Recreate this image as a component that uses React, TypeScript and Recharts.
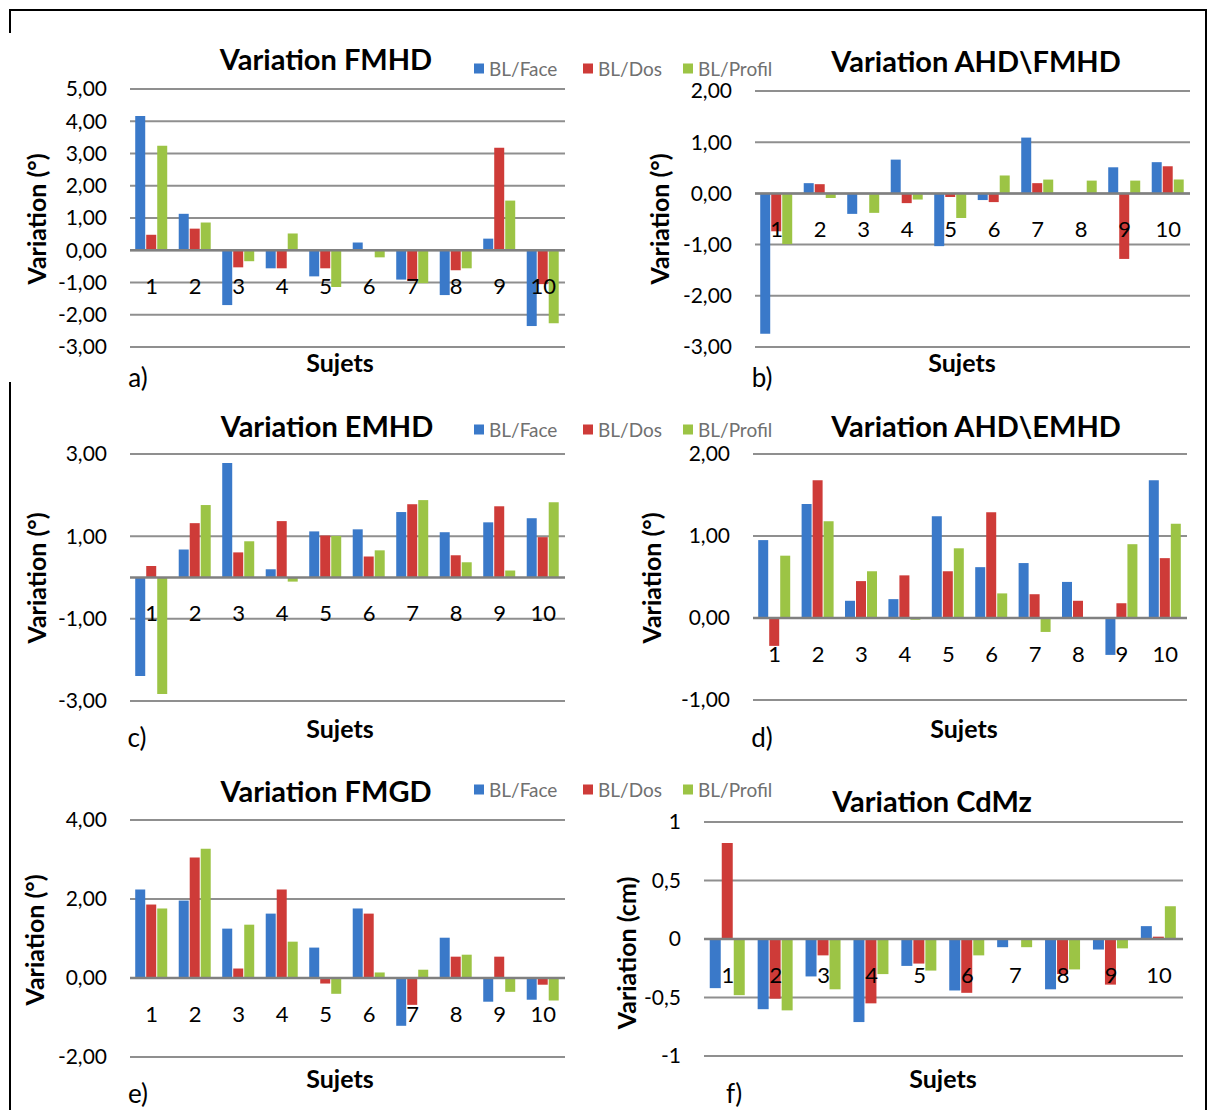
import React from 'react';
import {
  ComposedChart,
  Bar,
  Line,
  XAxis,
  YAxis,
  CartesianGrid,
  ReferenceLine,
  LabelList
} from 'recharts';

const subjects = ['1', '2', '3', '4', '5', '6', '7', '8', '9', '10'];
const seriesNames = ['BL/Face', 'BL/Dos', 'BL/Profil'];
const seriesColors = ['#3A79C9', '#CE3B38', '#9CC445'];

// a) FMHD
const fmhdFace = [4.16, 1.13, -1.7, -0.56, -0.81, 0.24, -0.91, -1.39, 0.36, -2.35];
const fmhdDos = [0.48, 0.67, -0.53, -0.56, -0.56, 0, -0.95, -0.62, 3.18, -1.05];
const fmhdProfil = [3.24, 0.86, -0.34, 0.52, -1.14, -0.22, -1.02, -0.56, 1.54, -2.26];

// b) AHD\FMHD
const ahdFmhdFace = [-2.74, 0.2, -0.4, 0.66, -1.03, -0.13, 1.09, 0, 0.51, 0.61];
const ahdFmhdDos = [-0.74, 0.18, 0, -0.19, -0.07, -0.17, 0.2, 0, -1.28, 0.53];
const ahdFmhdProfil = [-0.99, -0.09, -0.38, -0.12, -0.48, 0.35, 0.27, 0.25, 0.25, 0.27];

// c) EMHD
const emhdFace = [-2.39, 0.68, 2.78, 0.2, 1.12, 1.17, 1.59, 1.1, 1.34, 1.44];
const emhdDos = [0.28, 1.32, 0.61, 1.37, 1.02, 0.51, 1.78, 0.54, 1.73, 0.98];
const emhdProfil = [-2.83, 1.76, 0.88, -0.1, 1.01, 0.66, 1.88, 0.37, 0.17, 1.83];

// d) AHD\EMHD
const ahdEmhdFace = [0.95, 1.39, 0.21, 0.23, 1.24, 0.62, 0.67, 0.44, -0.45, 1.68];
const ahdEmhdDos = [-0.34, 1.68, 0.45, 0.52, 0.57, 1.29, 0.29, 0.21, 0.18, 0.73];
const ahdEmhdProfil = [0.76, 1.18, 0.57, -0.02, 0.85, 0.3, -0.17, 0, 0.9, 1.15];

// e) FMGD
const fmgdFace = [2.24, 1.96, 1.25, 1.63, 0.77, 1.76, -1.21, 1.02, -0.6, -0.55];
const fmgdDos = [1.86, 3.05, 0.24, 2.24, -0.14, 1.63, -0.68, 0.54, 0.54, -0.17];
const fmgdProfil = [1.76, 3.27, 1.35, 0.92, -0.4, 0.14, 0.21, 0.59, -0.35, -0.57];

// f) CdMz
const cdmzFace = [-0.42, -0.6, -0.32, -0.71, -0.23, -0.44, -0.07, -0.43, -0.09, 0.11];
const cdmzDos = [0.82, -0.51, -0.14, -0.55, -0.21, -0.46, 0, -0.3, -0.39, 0.02];
const cdmzProfil = [-0.48, -0.61, -0.43, -0.3, -0.27, -0.14, -0.07, -0.26, -0.08, 0.28];

const toRows = (face: number[], dos: number[], profil: number[]) =>
  subjects.map((name, i) => ({ name, face: face[i], dos: dos[i], profil: profil[i], zero: 0 }));

const fmt2 = (v: number) => v.toFixed(2).replace('.', ',');
const fmtShort = (v: number) => String(v).replace('.', ',');

const FONT = 'Lato, "Open Sans", sans-serif';

interface PanelDef {
  title: string;
  letter: string;
  yLabel: string;
  rows: ReturnType<typeof toRows>;
  domain: [number, number];
  ticks: number[];
  fmt: (v: number) => string;
  x0: number;
  x1: number;
  y0: number;
  y1: number;
  titlePos: [number, number];
  yLabelPos: [number, number];
  sujetsPos: [number, number];
  letterPos: [number, number];
}

const panels: PanelDef[] = [
  {
    title: 'Variation FMHD', letter: 'a)', yLabel: 'Variation (°)',
    rows: toRows(fmhdFace, fmhdDos, fmhdProfil),
    domain: [-3, 5], ticks: [-3, -2, -1, 0, 1, 2, 3, 4, 5], fmt: fmt2,
    x0: 130, x1: 565, y0: 89, y1: 347,
    titlePos: [326, 58], yLabelPos: [36, 219], sujetsPos: [340, 362], letterPos: [138, 377]
  },
  {
    title: 'Variation AHD\\FMHD', letter: 'b)', yLabel: 'Variation (°)',
    rows: toRows(ahdFmhdFace, ahdFmhdDos, ahdFmhdProfil),
    domain: [-3, 2], ticks: [-3, -2, -1, 0, 1, 2], fmt: fmt2,
    x0: 755, x1: 1190, y0: 91, y1: 347,
    titlePos: [976, 60], yLabelPos: [659, 219], sujetsPos: [962, 362], letterPos: [762, 377]
  },
  {
    title: 'Variation EMHD', letter: 'c)', yLabel: 'Variation (°)',
    rows: toRows(emhdFace, emhdDos, emhdProfil),
    domain: [-3, 3], ticks: [-3, -1, 1, 3], fmt: fmt2,
    x0: 130, x1: 565, y0: 454, y1: 701,
    titlePos: [327, 425], yLabelPos: [36, 578], sujetsPos: [340, 728], letterPos: [137, 737]
  },
  {
    title: 'Variation AHD\\EMHD', letter: 'd)', yLabel: 'Variation (°)',
    rows: toRows(ahdEmhdFace, ahdEmhdDos, ahdEmhdProfil),
    domain: [-1, 2], ticks: [-1, 0, 1, 2], fmt: fmt2,
    x0: 753, x1: 1187, y0: 454, y1: 700,
    titlePos: [976, 425], yLabelPos: [651, 578], sujetsPos: [964, 728], letterPos: [762, 737]
  },
  {
    title: 'Variation FMGD', letter: 'e)', yLabel: 'Variation (°)',
    rows: toRows(fmgdFace, fmgdDos, fmgdProfil),
    domain: [-2, 4], ticks: [-2, 0, 2, 4], fmt: fmt2,
    x0: 130, x1: 565, y0: 820, y1: 1057,
    titlePos: [326, 790], yLabelPos: [34, 940], sujetsPos: [340, 1078], letterPos: [138, 1093]
  },
  {
    title: 'Variation CdMz', letter: 'f)', yLabel: 'Variation (cm)',
    rows: toRows(cdmzFace, cdmzDos, cdmzProfil),
    domain: [-1, 1], ticks: [-1, -0.5, 0, 0.5, 1], fmt: fmtShort,
    x0: 704, x1: 1183, y0: 822, y1: 1056,
    titlePos: [932, 800], yLabelPos: [626, 953], sujetsPos: [943, 1078], letterPos: [734, 1093]
  }
];

const legendRows = [68, 429, 789];

const renderCat = (props: any) => {
  const { x, y, value } = props;
  return (
    <text x={x} y={y + 35} textAnchor="middle" dominantBaseline="central" fontSize={22} fill="#000">
      {value}
    </text>
  );
};

const center = (x: number, y: number): React.CSSProperties => ({
  position: 'absolute',
  left: x,
  top: y,
  transform: 'translate(-50%, -50%)',
  whiteSpace: 'nowrap',
  lineHeight: 1
});

function Panel({ p }: { p: PanelDef }) {
  const axisW = 90;
  const mTop = 18;
  const mBottom = 18;
  const width = p.x1 - p.x0 + axisW + 4;
  const height = p.y1 - p.y0 + mTop + mBottom;
  return (
    <>
      <div style={{ position: 'absolute', left: p.x0 - axisW, top: p.y0 - mTop }}>
        <ComposedChart
          width={width}
          height={height}
          data={p.rows}
          margin={{ top: mTop, right: 4, bottom: mBottom, left: 0 }}
          barGap={1}
          barCategoryGap="12%"
        >
          <CartesianGrid vertical={false} stroke="#8f8f8f" strokeWidth={2} />
          <XAxis dataKey="name" hide />
          <YAxis
            domain={p.domain}
            ticks={p.ticks}
            interval={0}
            tickFormatter={p.fmt}
            width={axisW}
            axisLine={false}
            tickLine={false}
            tickMargin={17}
            tick={{ fontSize: 21, fill: '#000' }}
          />
          <ReferenceLine y={0} stroke="#808080" strokeWidth={2.5} />
          <Bar dataKey="face" fill={seriesColors[0]} isAnimationActive={false} />
          <Bar dataKey="dos" fill={seriesColors[1]} isAnimationActive={false} />
          <Bar dataKey="profil" fill={seriesColors[2]} isAnimationActive={false} />
          <Line dataKey="zero" stroke="none" dot={false} activeDot={false} isAnimationActive={false}>
            <LabelList dataKey="name" content={renderCat} />
          </Line>
        </ComposedChart>
      </div>
      <div style={{ ...center(p.titlePos[0], p.titlePos[1]), fontSize: 29, fontWeight: 700 }}>{p.title}</div>
      <div
        style={{
          ...center(p.yLabelPos[0], p.yLabelPos[1]),
          transform: 'translate(-50%, -50%) rotate(-90deg)',
          fontSize: 25,
          fontWeight: 700
        }}
      >
        {p.yLabel}
      </div>
      <div style={{ ...center(p.sujetsPos[0], p.sujetsPos[1]), fontSize: 25, fontWeight: 700 }}>Sujets</div>
      <div style={{ ...center(p.letterPos[0], p.letterPos[1]), fontSize: 26 }}>{p.letter}</div>
    </>
  );
}

function Legend({ y }: { y: number }) {
  const lefts = [474, 583, 683];
  return (
    <>
      {seriesNames.map((name, i) => (
        <div
          key={name}
          style={{
            position: 'absolute',
            left: lefts[i],
            top: y,
            transform: 'translateY(-50%)',
            display: 'flex',
            alignItems: 'center',
            whiteSpace: 'nowrap',
            lineHeight: 1
          }}
        >
          <span style={{ display: 'inline-block', width: 10, height: 10, background: seriesColors[i], marginRight: 5 }} />
          <span style={{ fontSize: 19, color: '#707070' }}>{name}</span>
        </div>
      ))}
    </>
  );
}

export default function App() {
  return (
    <div
      style={{
        position: 'absolute',
        left: 0,
        top: 0,
        width: 1211,
        height: 1110,
        background: '#fff',
        fontFamily: FONT,
        color: '#000',
        overflow: 'hidden'
      }}
    >
      {/* frame */}
      <div style={{ position: 'absolute', left: 9, top: 9, width: 1198, height: 2, background: '#000' }} />
      <div style={{ position: 'absolute', left: 9, top: 9, width: 2, height: 24, background: '#000' }} />
      <div style={{ position: 'absolute', left: 9, top: 382, width: 2, height: 728, background: '#000' }} />
      <div style={{ position: 'absolute', left: 1205, top: 9, width: 2, height: 1101, background: '#000' }} />
      {panels.map((p) => (
        <Panel key={p.letter} p={p} />
      ))}
      {legendRows.map((y) => (
        <Legend key={y} y={y} />
      ))}
    </div>
  );
}
